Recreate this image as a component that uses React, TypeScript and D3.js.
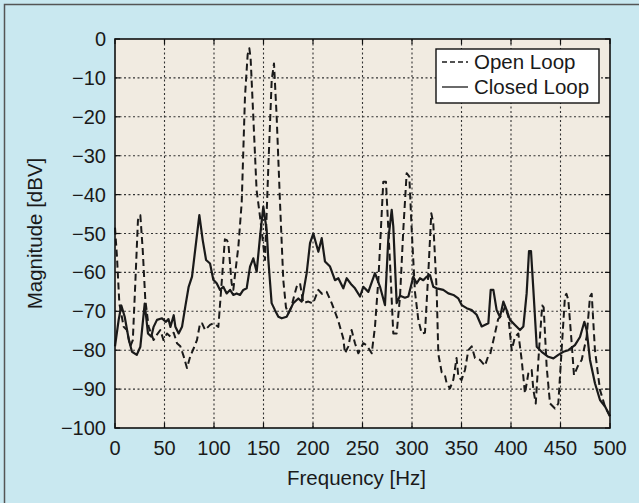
import React from "react";
import * as d3 from "d3";

const openFreq = [0,2,4.4,8.8,12,15.5,18,20.5,23.2,25.6,28,30.6,34,39,42.4,45.8,49,52.5,55.9,59.3,62.6,66,69.4,72.7,76,79.5,82.8,86,88,91,96,99.3,104.4,107.7,111,113,114.5,117.8,119.5,121.5,124.6,128,131.3,134,135.7,137,139.7,143,146.5,151.5,155,158.3,160.6,163.3,166.7,170,172.7,175,178,181,183.5,186.9,190.2,195.3,200,205.4,209,213.8,218.9,222,225.6,230.6,232.3,235.7,239,242.4,245.8,250.8,254.2,259.3,262.6,266,269.4,271,273.7,277.8,281.1,284.5,287.9,291.2,294.6,297.3,299.7,303,306.4,309.8,313.1,316.5,319.5,321.5,324.9,326.6,330,333.3,335,338.4,341.8,345,346.8,350,353.5,356.9,360.3,363.6,368.7,373.7,377,379,383.8,387,390.6,394,397.3,400.7,404,407.4,410.8,414.1,417.5,420.9,422.6,425,428.3,431.5,433,436,439.4,444.4,447.8,450.5,454.5,456,457.9,461.3,463.6,467.3,471.4,476.4,479.8,481.5,484.8,489.9,495,500];
const openMag = [-48.5,-56,-68,-74,-74.8,-79,-77.4,-62.8,-46.5,-45.3,-54.2,-67,-74,-77.4,-76,-74.8,-77.4,-75.7,-76.5,-75.5,-78.2,-79,-81.6,-84.6,-81.6,-79.5,-77.4,-73,-73.1,-74.8,-73.5,-73.1,-74,-62.8,-51.5,-51.7,-52.5,-62.8,-64.5,-60,-53.4,-42,-14.8,-4,-2.4,-5,-20,-38.8,-45.7,-56.8,-32,-10.5,-6.3,-20,-42.2,-62,-69,-70.5,-69,-66,-63.7,-62.8,-67.9,-67.5,-68,-64.5,-65.5,-65,-67.9,-70,-72.5,-77,-80.8,-79,-74.8,-78.2,-80.8,-78.2,-78.7,-80.8,-74,-62,-44.8,-36.7,-36.7,-57.7,-75.7,-75.7,-66.2,-49.1,-34.5,-35.4,-49.1,-65,-72.2,-75.7,-75.5,-60,-44.8,-47.4,-64.5,-81,-85.7,-86.5,-88.5,-89.8,-87.5,-82,-86.8,-87.7,-85.1,-80,-79,-82,-82.5,-84,-81.5,-81,-75.7,-72,-71,-68.8,-71.4,-80,-76.6,-75.7,-82.5,-91.1,-86,-85.1,-90.2,-93.7,-80,-68.5,-69,-84.2,-93.7,-95,-93.7,-82.5,-66.2,-65.5,-67.1,-78.2,-86.4,-84.2,-82.5,-76.6,-66.2,-65.5,-80,-90.2,-94.5,-97];

const closedFreq = [0,3.7,6.4,9.8,14,17.2,22,25.6,30,33.3,36.7,39,42.4,47.5,51.5,54,56,59.3,61,64.3,67.7,71,74.4,77.8,81,85.2,88.6,92,96,99.3,102.7,106.1,109.4,112.8,116.2,119.5,122.9,126.3,129.6,133,136.4,139.7,143.1,146.5,149.8,153.2,154.9,158.2,161.6,165,168.4,173.4,176.8,180.1,185.2,188.6,193.6,197,200.3,205.4,208.8,212.1,217.2,222.2,225.6,230.6,234,239,242.4,247.5,250.8,255.9,262.6,267.7,272.7,276,279.5,281.1,284.5,287.9,292.9,296.3,301.3,304.7,308,311.4,314.8,318.2,321.5,324.9,331.6,336.7,341.8,346.8,350.2,355.2,360.3,365.3,370.4,377.1,379.5,382.2,385.5,388.9,392.3,395.6,399,404,409.1,412.5,415.8,418.2,420.2,422.6,426,431,437.7,442.8,447.8,452.9,457.9,464.6,469.7,474.1,476.4,479.8,484.8,489.9,495,500];
const closedMag = [-79,-72.2,-68.5,-71.4,-77.4,-80.4,-81.2,-79.1,-68,-75.7,-76.5,-74,-72.2,-71.8,-72.7,-72,-74,-71,-74,-75.7,-74,-68.8,-63.7,-61.1,-54.2,-45.3,-51.7,-56.8,-57.7,-61.9,-62.8,-64.5,-63.7,-65.4,-64.5,-65.8,-65.4,-65.8,-64.5,-64.1,-58.5,-56.4,-59.8,-50.8,-43.1,-49.1,-56.8,-67.9,-69.7,-71.4,-71.8,-71.4,-69.7,-67.9,-66.7,-67.5,-60.2,-52.5,-50,-54.7,-51.2,-57.2,-58.5,-62,-61.5,-64.1,-61.5,-63.2,-64.1,-66.2,-63.7,-65,-60.2,-63.7,-68.4,-51.7,-43.9,-48.2,-67.9,-66,-66.5,-66.2,-61.1,-62.8,-61.5,-62,-61.1,-60.7,-63.7,-64.1,-64.5,-65.4,-65.8,-66.7,-68.4,-69.2,-69.7,-70.9,-73.9,-73.1,-64.5,-64.5,-69.7,-71.5,-67.5,-69.7,-72.2,-73.5,-74.8,-73.9,-65.4,-54.5,-54.5,-64.5,-79.1,-80.4,-81.7,-82.1,-81.2,-80.4,-80,-78.7,-76.6,-72.7,-74.8,-82.5,-88.5,-92.8,-94.5,-97];

const xTicks = [0, 50, 100, 150, 200, 250, 300, 350, 400, 450, 500];
const yTicks = [0, -10, -20, -30, -40, -50, -60, -70, -80, -90, -100];
const legendLabels = ["Open Loop", "Closed Loop"];

const W = 639, H = 503;
const L = 115, R = 610, T = 39, B = 428;
const FONT = "'Liberation Sans', Arial, Helvetica, sans-serif";

export default function App() {
  const x = d3.scaleLinear().domain([0, 500]).range([L, R]);
  const y = d3.scaleLinear().domain([-100, 0]).range([B, T]);
  const fmt = d3.format("d");
  const line = d3.line<[number, number]>().x(d => x(d[0])).y(d => y(d[1]));
  const openPts = openFreq.map((f, i) => [f, openMag[i]] as [number, number]);
  const closedPts = closedFreq.map((f, i) => [f, closedMag[i]] as [number, number]);
  const tickLen = 5;
  return (
    <svg width={W} height={H} style={{ position: "absolute", left: 0, top: 0 }} fontFamily={FONT}>
      <rect x={0} y={0} width={W} height={H} fill="#c9e8f0" />
      <rect x={4.5} y={4.5} width={W + 20} height={H + 20} fill="none" stroke="#555" strokeWidth={1.5} />
      <rect x={L} y={T} width={R - L} height={B - T} fill="#f1ebe1" />
      {xTicks.filter(t => t > 0 && t < 500).map(t => (
        <line key={"gx" + t} x1={x(t)} x2={x(t)} y1={T} y2={B} stroke="#333" strokeWidth={1.1} strokeDasharray="2,2.5" />
      ))}
      {yTicks.filter(t => t < 0 && t > -100).map(t => (
        <line key={"gy" + t} x1={L} x2={R} y1={y(t)} y2={y(t)} stroke="#333" strokeWidth={1.1} strokeDasharray="2,2.5" />
      ))}
      {xTicks.map(t => (
        <g key={"tx" + t}>
          <line x1={x(t)} x2={x(t)} y1={B} y2={B - tickLen} stroke="#111" strokeWidth={1.2} />
          <line x1={x(t)} x2={x(t)} y1={T} y2={T + tickLen} stroke="#111" strokeWidth={1.2} />
          <text x={x(t)} y={455} textAnchor="middle" fontSize={20} fill="#1a1a1a">{fmt(t)}</text>
        </g>
      ))}
      {yTicks.map(t => (
        <g key={"ty" + t}>
          <line x1={L} x2={L + tickLen} y1={y(t)} y2={y(t)} stroke="#111" strokeWidth={1.2} />
          <line x1={R} x2={R - tickLen} y1={y(t)} y2={y(t)} stroke="#111" strokeWidth={1.2} />
          <text x={106} y={y(t) + 7} textAnchor="end" fontSize={20} fill="#1a1a1a">{fmt(t)}</text>
        </g>
      ))}
      <path d={line(openPts) || ""} fill="none" stroke="#1a1a1a" strokeWidth={2} strokeDasharray="7,4" strokeLinejoin="round" />
      <path d={line(closedPts) || ""} fill="none" stroke="#1a1a1a" strokeWidth={2.2} strokeLinejoin="round" />
      <rect x={L} y={T} width={R - L} height={B - T} fill="none" stroke="#111" strokeWidth={1.6} />
      <rect x={436} y={49} width={163} height={54} fill="#fff" stroke="#111" strokeWidth={1.4} />
      <line x1={442} x2={468} y1={62} y2={62} stroke="#1a1a1a" strokeWidth={1.3} strokeDasharray="5,3" />
      <line x1={442} x2={468} y1={87} y2={87} stroke="#1a1a1a" strokeWidth={1.3} />
      <text x={474} y={69} fontSize={20.5} fill="#1a1a1a">{legendLabels[0]}</text>
      <text x={474} y={94} fontSize={20.5} fill="#1a1a1a">{legendLabels[1]}</text>
      <text x={(L + R) / 2 - 6} y={485} textAnchor="middle" fontSize={20.5} fill="#1a1a1a">Frequency [Hz]</text>
      <text transform={`translate(42,${(T + B) / 2}) rotate(-90)`} textAnchor="middle" fontSize={20.5} fill="#1a1a1a">Magnitude [dBV]</text>
    </svg>
  );
}
